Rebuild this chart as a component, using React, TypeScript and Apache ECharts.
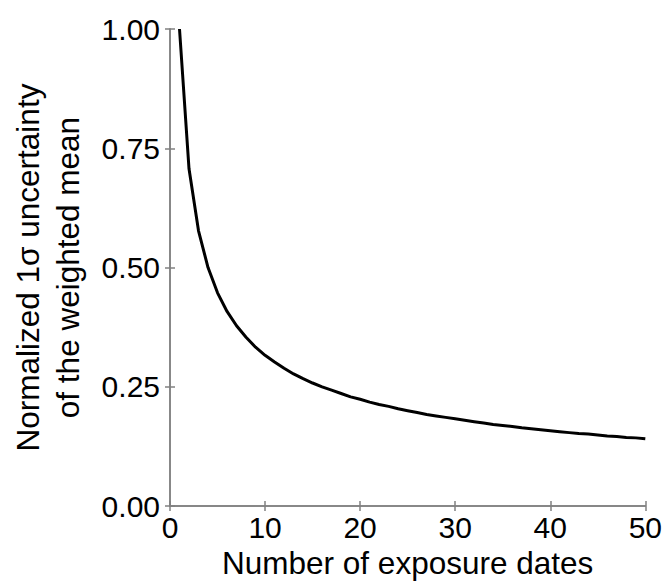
import React, { useEffect, useRef } from "react";
import * as echarts from "echarts";

const exposureDates = [
  1, 2, 3, 4, 5, 6, 7, 8, 9, 10, 11, 12, 13, 14, 15, 16, 17, 18, 19, 20, 21, 22, 23, 24, 25,
  26, 27, 28, 29, 30, 31, 32, 33, 34, 35, 36, 37, 38, 39, 40, 41, 42, 43, 44, 45, 46, 47, 48, 49, 50,
];
const uncertainty = [
  1.0, 0.707, 0.577, 0.5, 0.447, 0.408, 0.378, 0.354, 0.333, 0.316, 0.302, 0.289, 0.277, 0.267,
  0.258, 0.25, 0.243, 0.236, 0.229, 0.224, 0.218, 0.213, 0.209, 0.204, 0.2, 0.196, 0.192, 0.189,
  0.186, 0.183, 0.18, 0.177, 0.174, 0.171, 0.169, 0.167, 0.164, 0.162, 0.16, 0.158, 0.156, 0.154,
  0.152, 0.151, 0.149, 0.147, 0.146, 0.144, 0.143, 0.141,
];
const xTitle = "Number of exposure dates";
const yTitle = "Normalized 1\u03c3 uncertainty\nof the weighted mean";

export default function App() {
  const ref = useRef<HTMLDivElement>(null);
  useEffect(() => {
    if (!ref.current) return;
    const chart = echarts.init(ref.current, null, { renderer: "svg" });
    const font = "'Liberation Sans', Arial, Helvetica, sans-serif";
    const axisColor = "#808080";
    const common = {
      axisLine: { show: true, lineStyle: { color: axisColor, width: 1.5 } },
      axisTick: { show: true, inside: true, length: 5, lineStyle: { color: axisColor, width: 1.5 } },
      splitLine: { show: false },
    };
    chart.setOption({
      animation: false,
      backgroundColor: "#ffffff",
      grid: { left: 167, right: 19, top: 29, bottom: 76, containLabel: false },
      xAxis: [
        {
          type: "value",
          min: 0,
          max: 50,
          interval: 10,
          position: "bottom",
          ...common,
          axisLabel: { color: "#000", fontSize: 30, fontFamily: font, margin: 6 },
          name: xTitle,
          nameLocation: "middle",
          nameGap: 34,
          nameTextStyle: { color: "#000", fontSize: 31.5, fontFamily: font },
        },
        {
          type: "value",
          min: 0,
          max: 50,
          interval: 10,
          position: "top",
          ...common,
          axisLabel: { show: false },
        },
      ],
      yAxis: [
        {
          type: "value",
          min: 0,
          max: 1,
          interval: 0.25,
          position: "left",
          ...common,
          axisLabel: {
            color: "#000",
            fontSize: 30,
            fontFamily: font,
            margin: 10,
            formatter: (v: number) => v.toFixed(2),
          },
          name: yTitle,
          nameLocation: "middle",
          nameGap: 82,
          nameTextStyle: { color: "#000", fontSize: 31.5, fontFamily: font, lineHeight: 40 },
        },
        {
          type: "value",
          min: 0,
          max: 1,
          interval: 0.25,
          position: "right",
          ...common,
          axisLabel: { show: false },
        },
      ],
      series: [
        {
          type: "line",
          data: exposureDates.map((x, i) => [x, uncertainty[i]]),
          showSymbol: false,
          smooth: false,
          lineStyle: { color: "#000", width: 3 },
          xAxisIndex: 0,
          yAxisIndex: 0,
        },
      ],
    });
    return () => chart.dispose();
  }, []);
  return (
    <div
      ref={ref}
      style={{ position: "fixed", left: 0, top: 0, width: 665, height: 584, background: "#fff" }}
    />
  );
}
